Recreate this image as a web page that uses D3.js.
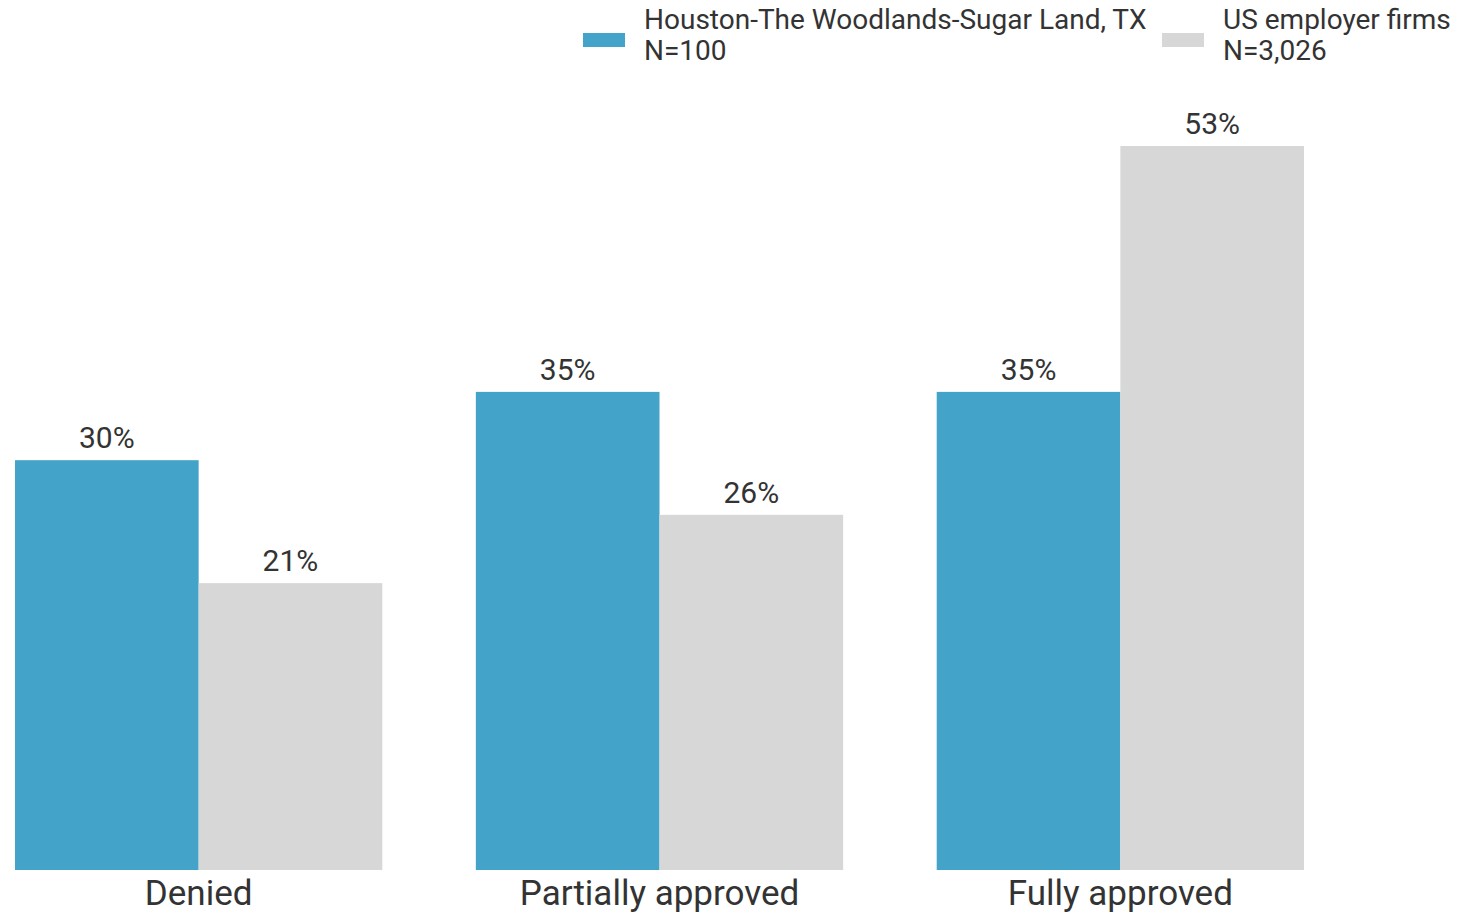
<!DOCTYPE html>
<html>
<head>
<meta charset="utf-8">
<script src="https://cdn.jsdelivr.net/npm/d3@7"></script>
<style>
  body { margin: 0; background: #fff; }
  text { font-family: Roboto, "Noto Sans", sans-serif; fill: #333; }
</style>
</head>
<body>
<div id="chart"></div>
<script>
const categories = ['Denied', 'Partially approved', 'Fully approved'];
const seriesNames = ['Houston-The Woodlands-Sugar Land, TX', 'US employer firms'];
const seriesN = ['N=100', 'N=3,026'];
const houston = [30, 35, 35];
const us = [21, 26, 53];
const colors = ['#43a3c8', '#d7d7d7'];

const width = 1460, height = 914;
const svg = d3.select('#chart').append('svg')
  .attr('width', width)
  .attr('height', height);

const x0 = d3.scaleBand()
  .domain(categories)
  .range([15, 1304])
  .paddingInner(0.203)
  .paddingOuter(0);

const x1 = d3.scaleBand()
  .domain([0, 1])
  .range([0, x0.bandwidth()]);

const y = d3.scaleLinear()
  .domain([0, 53])
  .range([870, 146]);

const rows = categories.map((c, i) => ({ cat: c, vals: [houston[i], us[i]] }));

const groups = svg.selectAll('g.grp')
  .data(rows)
  .enter()
  .append('g')
  .attr('class', 'grp')
  .attr('transform', d => `translate(${x0(d.cat)},0)`);

groups.selectAll('rect')
  .data(d => d.vals)
  .enter()
  .append('rect')
  .attr('x', (d, i) => x1(i))
  .attr('y', d => y(d))
  .attr('width', x1.bandwidth())
  .attr('height', d => y(0) - y(d))
  .attr('fill', (d, i) => colors[i]);

groups.selectAll('text.val')
  .data(d => d.vals)
  .enter()
  .append('text')
  .attr('class', 'val')
  .attr('x', (d, i) => x1(i) + x1.bandwidth() / 2)
  .attr('y', d => y(d) - 12)
  .attr('text-anchor', 'middle')
  .style('font-size', '30px')
  .text(d => d + '%');

// category labels
const xAxis = svg.append('g');
xAxis.selectAll('text')
  .data(categories)
  .enter()
  .append('text')
  .attr('x', d => x0(d) + x0.bandwidth() / 2)
  .attr('y', 905)
  .attr('text-anchor', 'middle')
  .style('font-size', '35px')
  .text(d => d);

// legend
const legendX = [583, 1162];
const legend = svg.selectAll('g.leg')
  .data(seriesNames)
  .enter()
  .append('g')
  .attr('class', 'leg')
  .attr('transform', (d, i) => `translate(${legendX[i]},0)`);

legend.append('rect')
  .attr('x', 0)
  .attr('y', 33)
  .attr('width', 42)
  .attr('height', 14)
  .attr('fill', (d, i) => colors[i]);

legend.append('text')
  .attr('x', 61)
  .attr('y', 29)
  .style('font-size', '28px')
  .text(d => d);

legend.append('text')
  .attr('x', 61)
  .attr('y', 60)
  .style('font-size', '28px')
  .text((d, i) => seriesN[i]);
</script>
</body>
</html>
